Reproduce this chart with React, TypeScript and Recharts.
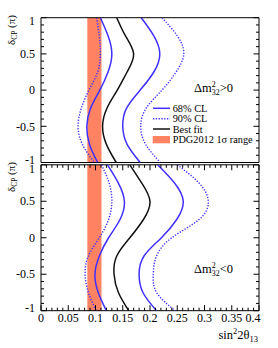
import React from 'react';
import { LineChart, Line, XAxis, YAxis, ReferenceArea } from 'recharts';

// delta_CP sample points (units of pi), shared by all curves
const deltaCP = [1, 0.75, 0.5, 0.25, 0, -0.25, -0.5, -0.75, -1];

// Top panel: Δm²32 > 0
const nhBest = [0.139, 0.155, 0.170, 0.158, 0.140, 0.121, 0.113, 0.120, 0.138];
const nh68Low = [0.109, 0.123, 0.130, 0.123, 0.108, 0.091, 0.084, 0.089, 0.104];
const nh68High = [0.184, 0.207, 0.218, 0.207, 0.182, 0.157, 0.150, 0.158, 0.182];
const nh90Low = [0.102, 0.107, 0.109, 0.104, 0.088, 0.074, 0.068, 0.076, 0.098];
const nh90High = [0.222, 0.250, 0.262, 0.248, 0.222, 0.193, 0.183, 0.192, 0.219];

// Bottom panel: Δm²32 < 0
const ihBest = [0.163, 0.185, 0.200, 0.188, 0.163, 0.139, 0.134, 0.142, 0.161];
const ih68Low = [0.122, 0.142, 0.153, 0.145, 0.124, 0.107, 0.099, 0.105, 0.120];
const ih68High = [0.214, 0.245, 0.261, 0.249, 0.221, 0.189, 0.180, 0.187, 0.212];
const ih90Low = [0.111, 0.125, 0.130, 0.124, 0.107, 0.087, 0.081, 0.087, 0.101];
const ih90High = [0.250, 0.290, 0.307, 0.290, 0.240, 0.212, 0.206, 0.212, 0.246];

// PDG2012 1σ range of sin²2θ13
const pdgRange = [0.085, 0.111];

// axis ticks
const xMajorTicks = [0, 0.05, 0.1, 0.15, 0.2, 0.25, 0.3, 0.35, 0.4];
const xMajorLabels = ['0', '0.05', '0.1', '0.15', '0.2', '0.25', '0.3', '0.35', '0.4'];
const yMajorTicks = [-1, -0.5, 0, 0.5, 1];
const yMajorLabels = ['-1', '-0.5', '0', '0.5', '1'];

const xTicks: number[] = [];
for (let i = 0; i <= 40; i++) xTicks.push(i / 100);
const yTicks: number[] = [];
for (let i = -10; i <= 10; i++) yTicks.push(i / 10);

const toRows = (best: number[], lo68: number[], hi68: number[], lo90: number[], hi90: number[]) =>
  deltaCP.map((d, i) => ({ d, best: best[i], lo68: lo68[i], hi68: hi68[i], lo90: lo90[i], hi90: hi90[i] }));

const nhRows = toRows(nhBest, nh68Low, nh68High, nh90Low, nh90High);
const ihRows = toRows(ihBest, ih68Low, ih68High, ih90Low, ih90High);

const FONT = '"Liberation Serif", "DejaVu Serif", serif';
const BLUE = '#4030ff';
const BAND = '#ff8262';
const W = 278;
const H = 348;
const PLOT_LEFT = 41;
const PLOT_RIGHT = 259;
const PW = PLOT_RIGHT - PLOT_LEFT;
const TOP_T = 17.7;
const TOP_B = 162.5;
const BOT_T = 164.8;
const BOT_B = 310.7;

const isNear = (a: number, arr: number[]) => arr.findIndex((v) => Math.abs(v - a) < 1e-6);

const makeYTick = () => (props: any) => {
  const { x, y, payload } = props;
  const idx = isNear(payload.value, yMajorTicks);
  const len = idx >= 0 ? 5.5 : 3;
  // end labels are nudged inward, as in the original
  const shift = idx === yMajorTicks.length - 1 ? 3.5 : idx === 0 ? -2.5 : 0;
  return (
    <g>
      <line x1={x} y1={y} x2={x + len} y2={y} stroke="#000" strokeWidth={1} />
      <line x1={x + PW} y1={y} x2={x + PW - len} y2={y} stroke="#000" strokeWidth={1} />
      {idx >= 0 && (
        <text x={x - 6} y={y + shift} dy="0.35em" textAnchor="end" fontSize={12} fontFamily={FONT} fill="#000">
          {yMajorLabels[idx]}
        </text>
      )}
    </g>
  );
};

const makeXTick = (ph: number, showLabels: boolean) => (props: any) => {
  const { x, y, payload } = props;
  const idx = isNear(payload.value, xMajorTicks);
  const len = idx >= 0 ? 5.5 : 3;
  const shift = idx === xMajorTicks.length - 1 ? -6 : 0;
  return (
    <g>
      <line x1={x} y1={y} x2={x} y2={y - len} stroke="#000" strokeWidth={1} />
      <line x1={x} y1={y - ph} x2={x} y2={y - ph + len} stroke="#000" strokeWidth={1} />
      {showLabels && idx >= 0 && (
        <text x={x + shift} y={y + 11.6} textAnchor="middle" fontSize={12} fontFamily={FONT} fill="#000">
          {xMajorLabels[idx]}
        </text>
      )}
    </g>
  );
};

function Panel({ rows, top, bottom, showXLabels }: { rows: any[]; top: number; bottom: number; showXLabels: boolean }) {
  const xAxisH = showXLabels ? H - bottom : 0;
  const marginBottom = showXLabels ? 0 : H - bottom;
  return (
    <LineChart
      width={W}
      height={H}
      data={rows}
      layout="vertical"
      margin={{ top, right: W - PLOT_RIGHT, bottom: marginBottom, left: 0 }}
      style={{ position: 'absolute', left: 0, top: 0 }}
    >
      <XAxis
        type="number"
        domain={[0, 0.4]}
        ticks={xTicks}
        interval={0}
        height={xAxisH}
        tickSize={0}
        tickMargin={0}
        axisLine={false}
        tickLine={false}
        allowDataOverflow
        tick={makeXTick(bottom - top, showXLabels)}
      />
      <YAxis
        type="number"
        dataKey="d"
        domain={[-1, 1]}
        ticks={yTicks}
        interval={0}
        reversed
        width={PLOT_LEFT}
        tickSize={0}
        tickMargin={0}
        axisLine={false}
        tickLine={false}
        allowDataOverflow
        tick={makeYTick()}
      />
      <ReferenceArea x1={pdgRange[0]} x2={pdgRange[1]} y1={-1} y2={1} fill={BAND} fillOpacity={1} stroke="none" />
      <Line dataKey="lo90" type="natural" stroke={BLUE} strokeWidth={1.4} strokeDasharray="1.3 1.5" dot={false} isAnimationActive={false} />
      <Line dataKey="hi90" type="natural" stroke={BLUE} strokeWidth={1.4} strokeDasharray="1.3 1.5" dot={false} isAnimationActive={false} />
      <Line dataKey="lo68" type="natural" stroke={BLUE} strokeWidth={1.5} dot={false} isAnimationActive={false} />
      <Line dataKey="hi68" type="natural" stroke={BLUE} strokeWidth={1.5} dot={false} isAnimationActive={false} />
      <Line dataKey="best" type="natural" stroke="#111" strokeWidth={1.5} dot={false} isAnimationActive={false} />
      <ReferenceArea x1={0} x2={0.4} y1={-1} y2={1} fill="none" stroke="#000" strokeWidth={1} />
    </LineChart>
  );
}

function YTitle({ x, y }: { x: number; y: number }) {
  return (
    <text transform={`translate(${x},${y}) rotate(-90)`} fontSize={11} fontFamily={FONT} fill="#000">
      δ<tspan fontSize={7.5} dy={2}>CP</tspan>
      <tspan dy={-2}> (π)</tspan>
    </text>
  );
}

function DmLabel({ x, y, sign }: { x: number; y: number; sign: string }) {
  return (
    <text x={x} y={y} fontSize={12.5} fontFamily={FONT} fill="#000">
      Δm
      <tspan fontSize={8} dy={-5}>2</tspan>
      <tspan fontSize={8} dx={-4} dy={8}>32</tspan>
      <tspan dy={-3}>{sign}0</tspan>
    </text>
  );
}

export default function App() {
  return (
    <div style={{ position: 'absolute', left: 0, top: 0, width: W, height: H, background: '#fff', overflow: 'hidden' }}>
      <Panel rows={nhRows} top={TOP_T} bottom={TOP_B} showXLabels={false} />
      <Panel rows={ihRows} top={BOT_T} bottom={BOT_B} showXLabels={true} />
      <svg width={W} height={H} style={{ position: 'absolute', left: 0, top: 0, pointerEvents: 'none' }}>
        <YTitle x={15} y={45} />
        <YTitle x={15} y={192} />
        <DmLabel x={194} y={91.7} sign=">" />
        <DmLabel x={194} y={273} sign="<" />
        <text x={258} y={338.5} textAnchor="end" fontSize={12.5} fontFamily={FONT} fill="#000">
          sin<tspan fontSize={8.5} dy={-5}>2</tspan>
          <tspan dy={5}>2θ</tspan>
          <tspan fontSize={8.5} dy={3}>13</tspan>
        </text>
        {/* legend */}
        <g fontFamily={FONT} fontSize={10.3} fill="#000">
          <line x1={153} y1={108.3} x2={170} y2={108.3} stroke={BLUE} strokeWidth={1.5} />
          <text x={172.7} y={111.7}>68% CL</text>
          <line x1={153} y1={118.7} x2={170} y2={118.7} stroke={BLUE} strokeWidth={1.4} strokeDasharray="1.3 1.5" />
          <text x={172.7} y={122}>90% CL</text>
          <line x1={153} y1={129} x2={170} y2={129} stroke="#111" strokeWidth={1.5} />
          <text x={172.7} y={132.5}>Best fit</text>
          <rect x={152.7} y={136} width={17.3} height={7.3} fill={BAND} />
          <text x={172.7} y={143.3}>PDG2012 1σ range</text>
        </g>
      </svg>
    </div>
  );
}
